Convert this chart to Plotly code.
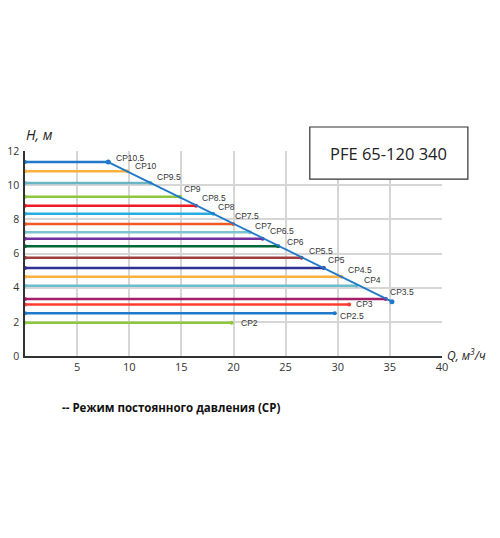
import plotly.graph_objects as go

# constant-pressure (CP) curves
CP_LABELS = ["CP10.5", "CP10", "CP9.5", "CP9", "CP8.5", "CP8", "CP7.5", "CP7", "CP6.5",
             "CP6", "CP5.5", "CP5", "CP4.5", "CP4", "CP3.5", "CP3", "CP2.5", "CP2"]
CP_HEAD = [11.35, 10.82, 10.13, 9.32, 8.79, 8.32, 7.72, 7.25, 6.86,
           6.43, 5.75, 5.15, 4.64, 4.11, 3.33, 3.02, 2.50, 1.95]
CP_FLOW_END = [7.99, 9.81, 12.05, 14.86, 16.40, 18.05, 19.97, 21.57, 22.79,
               24.29, 26.53, 28.67, 30.36, 31.80, 34.61, 31.09, 29.72, 19.82]

# max curve (diagonal)
MAX_Q = [7.99, 35.2]
MAX_H = [11.35, 3.18]

X_TICKS = [5, 10, 15, 20, 25, 30, 35, 40]
Y_TICKS = [0, 2, 4, 6, 8, 10, 12]

COLORS = ["#1f78c8", "#fbb040", "#6bb5c2", "#8dc63f", "#ed1c24", "#29abe2", "#f15a24",
          "#7cc5d0", "#7030a0", "#006837", "#9e3d3d", "#2e3192", "#fbb040", "#6bbccc",
          "#a51e6a", "#ff3b30", "#1f78c8", "#8dc63f"]
# label offsets in px (dx, dy up)
OFFSETS = [(6, 4), (6, 5), (4, 6), (2, 8), (4, 8), (3, 7), (0, 8), (3, 6), (5, 8),
           (7, 4), (5, 7), (2, 8), (4, 7), (5, 6), (2, 7), (5, 0), (3, -3), (7, 0)]

fig = go.Figure()

for lab, h, q, c in zip(CP_LABELS, CP_HEAD, CP_FLOW_END, COLORS):
    fig.add_trace(go.Scatter(
        x=[0, q], y=[h, h], mode="lines+markers",
        line=dict(color=c, width=2.5),
        marker=dict(color=c, size=4),
        showlegend=False, hoverinfo="skip", cliponaxis=False,
    ))

fig.add_trace(go.Scatter(
    x=MAX_Q, y=MAX_H, mode="lines+markers",
    line=dict(color="#1f78c8", width=1.8),
    marker=dict(color="#1f78c8", size=5),
    showlegend=False, hoverinfo="skip",
))

for lab, h, q, (dx, dy) in zip(CP_LABELS, CP_HEAD, CP_FLOW_END, OFFSETS):
    fig.add_annotation(
        x=q, y=h, text=lab, showarrow=False,
        xanchor="left", yanchor="middle", xshift=dx, yshift=dy,
        font=dict(family="Liberation Sans", size=8.5, color="#333333"),
    )

# axis titles
fig.add_annotation(
    xref="paper", yref="paper", x=0, y=1, xshift=-1, yshift=17,
    text="<i>H, м</i>", showarrow=False, xanchor="left", yanchor="middle",
    font=dict(family="Open Sans", size=14, color="#222222"),
)
fig.add_annotation(
    xref="paper", yref="paper", x=1, y=0, xshift=3, yshift=1,
    text="<i>Q, м<sup>3</sup>/ч</i>", showarrow=False, xanchor="left", yanchor="middle",
    font=dict(family="Open Sans", size=12, color="#222222"),
)

# model box
fig.add_shape(
    type="rect", xref="paper", yref="paper",
    x0=0.683, x1=1.062, y0=0.863, y1=1.117,
    fillcolor="white", line=dict(color="#333333", width=1.2), layer="above",
)
fig.add_annotation(
    xref="paper", yref="paper", x=0.8725, y=0.99,
    text="PFE 65-120 340", showarrow=False, xanchor="center", yanchor="middle",
    font=dict(family="Open Sans", size=16.5, color="#222222"),
)

# footnote
fig.add_annotation(
    xref="paper", yref="paper", x=0.084, y=0, yshift=-51,
    text="<b>-- Режим постоянного давления (CP)</b>", showarrow=False,
    xanchor="left", yanchor="middle",
    font=dict(family="Open Sans", size=11.5, color="#111111"),
)

fig.update_xaxes(
    range=[0, 40], tickvals=X_TICKS, showgrid=True, gridcolor="#d6d6d6", gridwidth=1.5,
    zeroline=False, showline=True, linecolor="#333333", linewidth=1.5, automargin=False,
    ticks="", tickfont=dict(family="Open Sans", size=11, color="#333333"),
)
fig.update_yaxes(
    range=[0, 12], tickvals=Y_TICKS, showgrid=True, gridcolor="#d6d6d6", gridwidth=1.5,
    zeroline=False, showline=True, linecolor="#333333", linewidth=1.5, automargin=False,
    ticks="", ticklabelstandoff=2, tickfont=dict(family="Open Sans", size=10.5, color="#333333"),
)

# page body adds 8px around the figure, so the figure is a bit smaller
fig.update_layout(
    width=492, height=530,
    margin=dict(l=17, r=58, t=143, b=182),
    plot_bgcolor="white", paper_bgcolor="white",
    showlegend=False,
)

fig.write_html("out.html")
